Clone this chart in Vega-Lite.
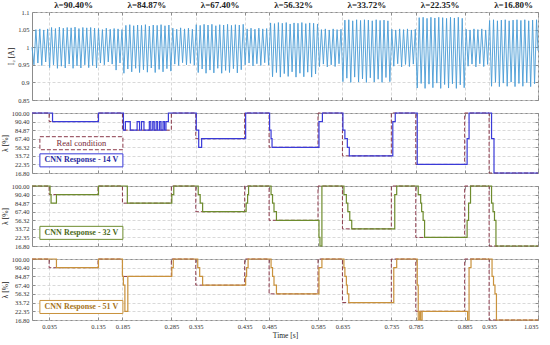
{
"$schema": "https://vega.github.io/schema/vega-lite/v6.json",
"background": "white",
"padding": {"left": 0, "right": 8, "top": 0, "bottom": 2},
"spacing": 5,
"config": {
 "font": "Liberation Serif",
 "view": {"stroke": "#8c8c8c", "strokeWidth": 1},
 "axis": {"labelFontSize": 6.5, "labelColor": "#333333", "titleFontSize": 7.5, "titleFontWeight": "normal", "titleColor": "#222222", "domain": false, "tickColor": "#8c8c8c", "tickSize": -3, "labelPadding": 6, "gridColor": "#cfcfcf", "gridDash": [3, 2], "gridWidth": 0.8, "titlePadding": 2}
},
"datasets": {
 "sig": [
{"t":0,"v":1.0},{"t":0.004,"v":0.950},{"t":0.008,"v":1.050},{"t":0.012,"v":0.955},{"t":0.016,"v":1.052},{"t":0.020,"v":0.948},{"t":0.024,"v":1.049},{"t":0.028,"v":0.958},{"t":0.032,"v":1.052},
{"t":0.036,"v":0.942},{"t":0.040,"v":1.056},{"t":0.044,"v":0.950},{"t":0.048,"v":1.053},{"t":0.052,"v":0.940},{"t":0.056,"v":1.057},{"t":0.060,"v":0.946},{"t":0.064,"v":1.054},{"t":0.068,"v":0.941},{"t":0.072,"v":1.056},{"t":0.076,"v":0.952},{"t":0.080,"v":1.055},{"t":0.084,"v":0.940},{"t":0.088,"v":1.057},{"t":0.092,"v":0.947},{"t":0.096,"v":1.053},{"t":0.100,"v":0.941},{"t":0.104,"v":1.056},{"t":0.108,"v":0.950},{"t":0.112,"v":1.055},{"t":0.116,"v":0.942},{"t":0.120,"v":1.056},{"t":0.124,"v":0.948},{"t":0.128,"v":1.054},{"t":0.132,"v":0.941},
{"t":0.136,"v":1.053},{"t":0.140,"v":0.955},{"t":0.144,"v":1.050},{"t":0.148,"v":0.950},{"t":0.152,"v":1.054},{"t":0.156,"v":0.958},{"t":0.160,"v":1.051},{"t":0.164,"v":0.952},{"t":0.168,"v":1.053},{"t":0.172,"v":0.935},{"t":0.176,"v":1.052},{"t":0.180,"v":0.955},{"t":0.184,"v":1.050},
{"t":0.188,"v":0.926},{"t":0.192,"v":1.062},{"t":0.196,"v":0.938},{"t":0.200,"v":1.064},{"t":0.204,"v":0.930},{"t":0.208,"v":1.061},{"t":0.212,"v":0.940},{"t":0.216,"v":1.063},{"t":0.220,"v":0.928},{"t":0.224,"v":1.062},{"t":0.228,"v":0.936},{"t":0.232,"v":1.064},{"t":0.236,"v":0.929},{"t":0.240,"v":1.060},{"t":0.244,"v":0.941},{"t":0.248,"v":1.063},{"t":0.252,"v":0.928},{"t":0.256,"v":1.062},{"t":0.260,"v":0.937},{"t":0.264,"v":1.064},{"t":0.268,"v":0.930},{"t":0.272,"v":1.061},{"t":0.276,"v":0.939},{"t":0.280,"v":1.063},{"t":0.284,"v":0.932},
{"t":0.288,"v":1.054},{"t":0.292,"v":0.952},{"t":0.296,"v":1.051},{"t":0.300,"v":0.948},{"t":0.304,"v":1.055},{"t":0.308,"v":0.956},{"t":0.312,"v":1.052},{"t":0.316,"v":0.950},{"t":0.320,"v":1.054},{"t":0.324,"v":0.954},{"t":0.328,"v":1.051},{"t":0.332,"v":0.949},
{"t":0.336,"v":1.064},{"t":0.340,"v":0.928},{"t":0.344,"v":1.062},{"t":0.348,"v":0.938},{"t":0.352,"v":1.065},{"t":0.356,"v":0.926},{"t":0.360,"v":1.063},{"t":0.364,"v":0.935},{"t":0.368,"v":1.065},{"t":0.372,"v":0.927},{"t":0.376,"v":1.061},{"t":0.380,"v":0.940},{"t":0.384,"v":1.064},{"t":0.388,"v":0.926},{"t":0.392,"v":1.063},{"t":0.396,"v":0.934},{"t":0.400,"v":1.065},{"t":0.404,"v":0.928},{"t":0.408,"v":1.062},{"t":0.412,"v":0.939},{"t":0.416,"v":1.064},{"t":0.420,"v":0.927},{"t":0.424,"v":1.063},{"t":0.428,"v":0.936},{"t":0.432,"v":1.065},
{"t":0.436,"v":0.950},{"t":0.440,"v":1.052},{"t":0.444,"v":0.955},{"t":0.448,"v":1.054},{"t":0.452,"v":0.947},{"t":0.456,"v":1.051},{"t":0.460,"v":0.953},{"t":0.464,"v":1.054},{"t":0.468,"v":0.948},{"t":0.472,"v":1.052},{"t":0.476,"v":0.956},{"t":0.480,"v":1.053},{"t":0.484,"v":0.949},
{"t":0.488,"v":1.069},{"t":0.492,"v":0.916},{"t":0.496,"v":1.067},{"t":0.500,"v":0.928},{"t":0.504,"v":1.070},{"t":0.508,"v":0.915},{"t":0.512,"v":1.068},{"t":0.516,"v":0.925},{"t":0.520,"v":1.070},{"t":0.524,"v":0.917},{"t":0.528,"v":1.066},{"t":0.532,"v":0.930},{"t":0.536,"v":1.069},{"t":0.540,"v":0.915},{"t":0.544,"v":1.068},{"t":0.548,"v":0.926},{"t":0.552,"v":1.070},{"t":0.556,"v":0.916},{"t":0.560,"v":1.067},{"t":0.564,"v":0.929},{"t":0.568,"v":1.069},{"t":0.572,"v":0.915},{"t":0.576,"v":1.068},{"t":0.580,"v":0.924},{"t":0.584,"v":1.066},
{"t":0.588,"v":0.945},{"t":0.592,"v":1.050},{"t":0.596,"v":0.952},{"t":0.600,"v":1.052},{"t":0.604,"v":0.944},{"t":0.608,"v":1.049},{"t":0.612,"v":0.950},{"t":0.616,"v":1.052},{"t":0.620,"v":0.945},{"t":0.624,"v":1.050},{"t":0.628,"v":0.953},{"t":0.632,"v":1.051},
{"t":0.636,"v":0.902},{"t":0.640,"v":1.077},{"t":0.644,"v":0.912},{"t":0.648,"v":1.078},{"t":0.652,"v":0.900},{"t":0.656,"v":1.075},{"t":0.660,"v":0.915},{"t":0.664,"v":1.078},{"t":0.668,"v":0.901},{"t":0.672,"v":1.076},{"t":0.676,"v":0.910},{"t":0.680,"v":1.078},{"t":0.684,"v":0.900},{"t":0.688,"v":1.077},{"t":0.692,"v":0.913},{"t":0.696,"v":1.075},{"t":0.700,"v":0.901},{"t":0.704,"v":1.078},{"t":0.708,"v":0.909},{"t":0.712,"v":1.076},{"t":0.716,"v":0.900},{"t":0.720,"v":1.077},{"t":0.724,"v":0.914},{"t":0.728,"v":1.075},{"t":0.732,"v":0.902},
{"t":0.736,"v":1.051},{"t":0.740,"v":0.946},{"t":0.744,"v":1.049},{"t":0.748,"v":0.953},{"t":0.752,"v":1.052},{"t":0.756,"v":0.944},{"t":0.760,"v":1.050},{"t":0.764,"v":0.951},{"t":0.768,"v":1.052},{"t":0.772,"v":0.945},{"t":0.776,"v":1.049},{"t":0.780,"v":0.952},{"t":0.784,"v":1.051},
{"t":0.788,"v":0.884},{"t":0.792,"v":1.084},{"t":0.796,"v":0.897},{"t":0.800,"v":1.085},{"t":0.804,"v":0.883},{"t":0.808,"v":1.082},{"t":0.812,"v":0.895},{"t":0.816,"v":1.085},{"t":0.820,"v":0.885},{"t":0.824,"v":1.083},{"t":0.828,"v":0.898},{"t":0.832,"v":1.085},{"t":0.836,"v":0.883},{"t":0.840,"v":1.084},{"t":0.844,"v":0.894},{"t":0.848,"v":1.082},{"t":0.852,"v":0.884},{"t":0.856,"v":1.085},{"t":0.860,"v":0.896},{"t":0.864,"v":1.083},{"t":0.868,"v":0.883},{"t":0.872,"v":1.085},{"t":0.876,"v":0.893},{"t":0.880,"v":1.082},{"t":0.884,"v":0.885},
{"t":0.888,"v":1.051},{"t":0.892,"v":0.946},{"t":0.896,"v":1.049},{"t":0.900,"v":0.952},{"t":0.904,"v":1.052},{"t":0.908,"v":0.944},{"t":0.912,"v":1.050},{"t":0.916,"v":0.953},{"t":0.920,"v":1.052},{"t":0.924,"v":0.945},{"t":0.928,"v":1.049},{"t":0.932,"v":0.951},
{"t":0.936,"v":1.076},{"t":0.940,"v":0.889},{"t":0.944,"v":1.078},{"t":0.948,"v":0.900},{"t":0.952,"v":1.075},{"t":0.956,"v":0.888},{"t":0.960,"v":1.077},{"t":0.964,"v":0.898},{"t":0.968,"v":1.078},{"t":0.972,"v":0.889},{"t":0.976,"v":1.075},{"t":0.980,"v":0.901},{"t":0.984,"v":1.077},{"t":0.988,"v":0.888},{"t":0.992,"v":1.078},{"t":0.996,"v":0.897},{"t":1.000,"v":1.076},{"t":1.004,"v":0.889},{"t":1.008,"v":1.078},{"t":1.012,"v":0.899},{"t":1.016,"v":1.075},{"t":1.020,"v":0.888},{"t":1.024,"v":1.077},{"t":1.028,"v":0.896},{"t":1.032,"v":1.078},{"t":1.035,"v":0.990}
 ],
 "hdr": [
  {"t":0.085,"label":"λ=90.40%"},{"t":0.235,"label":"λ=84.87%"},{"t":0.385,"label":"λ=67.40%"},{"t":0.535,"label":"λ=56.32%"},{"t":0.685,"label":"λ=33.72%"},{"t":0.835,"label":"λ=22.35%"},{"t":0.985,"label":"λ=16.80%"}
 ],
 "real": [
  {"t":0,"lam":100},{"t":0.035,"lam":90.4},{"t":0.135,"lam":100},{"t":0.185,"lam":84.87},{"t":0.285,"lam":100},{"t":0.335,"lam":67.4},{"t":0.435,"lam":100},{"t":0.485,"lam":56.32},{"t":0.585,"lam":100},{"t":0.635,"lam":33.72},{"t":0.735,"lam":100},{"t":0.785,"lam":22.35},{"t":0.885,"lam":100},{"t":0.935,"lam":16.8},{"t":1.035,"lam":16.8}
 ],
 "c14": [
  {"t":0,"lam":100},{"t":0.042,"lam":90.4},{"t":0.136,"lam":100},{"t":0.187,"lam":84.87},{"t":0.191,"lam":90.4},{"t":0.201,"lam":84.87},{"t":0.215,"lam":90.4},{"t":0.220,"lam":84.87},{"t":0.224,"lam":90.4},{"t":0.229,"lam":84.87},{"t":0.240,"lam":90.4},{"t":0.243,"lam":84.87},{"t":0.247,"lam":90.4},{"t":0.250,"lam":84.87},{"t":0.254,"lam":90.4},{"t":0.257,"lam":84.87},{"t":0.261,"lam":90.4},{"t":0.264,"lam":84.87},{"t":0.268,"lam":90.4},{"t":0.271,"lam":84.87},{"t":0.274,"lam":90.4},{"t":0.279,"lam":100},
  {"t":0.336,"lam":84.87},{"t":0.341,"lam":56.32},{"t":0.347,"lam":67.4},{"t":0.437,"lam":100},{"t":0.486,"lam":84.87},{"t":0.489,"lam":67.4},{"t":0.491,"lam":56.32},{"t":0.587,"lam":90.4},{"t":0.594,"lam":100},{"t":0.636,"lam":84.87},{"t":0.640,"lam":67.4},{"t":0.645,"lam":56.32},{"t":0.649,"lam":33.72},{"t":0.738,"lam":90.4},{"t":0.743,"lam":100},{"t":0.788,"lam":22.35},{"t":0.890,"lam":67.4},{"t":0.894,"lam":100},{"t":0.940,"lam":67.4},{"t":0.945,"lam":16.8},{"t":1.035,"lam":16.8}
 ],
 "c32": [
  {"t":0,"lam":100},{"t":0.037,"lam":90.4},{"t":0.039,"lam":84.87},{"t":0.050,"lam":90.4},{"t":0.136,"lam":100},{"t":0.195,"lam":84.87},{"t":0.286,"lam":90.4},{"t":0.290,"lam":100},{"t":0.340,"lam":90.4},{"t":0.344,"lam":84.87},{"t":0.349,"lam":67.4},{"t":0.438,"lam":84.87},{"t":0.441,"lam":90.4},{"t":0.443,"lam":100},{"t":0.489,"lam":90.4},{"t":0.492,"lam":84.87},{"t":0.495,"lam":67.4},{"t":0.500,"lam":56.32},{"t":0.587,"lam":22.35},{"t":0.589,"lam":16.8},{"t":0.593,"lam":100},{"t":0.638,"lam":90.4},{"t":0.643,"lam":84.87},{"t":0.646,"lam":67.4},{"t":0.650,"lam":56.32},{"t":0.654,"lam":33.72},{"t":0.742,"lam":90.4},{"t":0.746,"lam":100},{"t":0.790,"lam":90.4},{"t":0.795,"lam":84.87},{"t":0.797,"lam":67.4},{"t":0.800,"lam":56.32},{"t":0.803,"lam":22.35},{"t":0.890,"lam":56.32},{"t":0.893,"lam":84.87},{"t":0.897,"lam":100},{"t":0.940,"lam":84.87},{"t":0.943,"lam":67.4},{"t":0.946,"lam":56.32},{"t":0.949,"lam":16.8},{"t":1.035,"lam":16.8}
 ],
 "c51": [
  {"t":0,"lam":100},{"t":0.050,"lam":90.4},{"t":0.136,"lam":100},{"t":0.185,"lam":84.87},{"t":0.187,"lam":67.4},{"t":0.190,"lam":22.35},{"t":0.196,"lam":84.87},{"t":0.286,"lam":90.4},{"t":0.289,"lam":100},{"t":0.339,"lam":90.4},{"t":0.343,"lam":84.87},{"t":0.349,"lam":67.4},{"t":0.437,"lam":84.87},{"t":0.439,"lam":90.4},{"t":0.442,"lam":100},{"t":0.489,"lam":90.4},{"t":0.492,"lam":84.87},{"t":0.495,"lam":67.4},{"t":0.500,"lam":56.32},{"t":0.587,"lam":90.4},{"t":0.593,"lam":100},{"t":0.638,"lam":90.4},{"t":0.640,"lam":84.87},{"t":0.643,"lam":67.4},{"t":0.645,"lam":56.32},{"t":0.648,"lam":33.72},{"t":0.740,"lam":90.4},{"t":0.746,"lam":100},{"t":0.788,"lam":67.4},{"t":0.790,"lam":16.8},{"t":0.793,"lam":22.35},{"t":0.795,"lam":16.8},{"t":0.798,"lam":22.35},{"t":0.891,"lam":16.8},{"t":0.894,"lam":90.4},{"t":0.898,"lam":100},{"t":0.941,"lam":84.87},{"t":0.944,"lam":67.4},{"t":0.947,"lam":56.32},{"t":0.950,"lam":16.8},{"t":1.035,"lam":16.8}
 ]
},
"vconcat": [
 {
  "width": 506, "height": 88,
  "layer": [
   {"data": {"name": "sig"},
    "mark": {"type": "line", "color": "#4a9cd6", "strokeWidth": 0.9},
    "encoding": {
     "x": {"field": "t", "type": "quantitative", "scale": {"domain": [0, 1.035], "nice": false, "zero": false},
      "axis": {"orient": "bottom", "values": [0.035,0.135,0.185,0.285,0.335,0.435,0.485,0.585,0.635,0.735,0.785,0.885,0.935,1.035], "labels": false, "title": null, "grid": true}},
     "y": {"field": "v", "type": "quantitative", "scale": {"domain": [0.85, 1.1], "nice": false, "zero": false},
      "axis": {"orient": "left", "values": [0.85,0.9,0.95,1,1.05,1.1], "format": ".3~f", "title": "I₂ [A]", "grid": true}}
    }},
   {"data": {"name": "hdr"},
    "mark": {"type": "text", "fontSize": 9, "fontWeight": "bold", "baseline": "bottom", "dy": -2, "color": "#222222"},
    "encoding": {
     "x": {"field": "t", "type": "quantitative", "axis": {"orient": "top", "values": [0.035,0.135,0.185,0.285,0.335,0.435,0.485,0.585,0.635,0.735,0.785,0.885,0.935,1.035], "labels": false, "title": null, "grid": false}},
     "y": {"datum": 1.1, "type": "quantitative", "axis": {"orient": "right", "values": [0.85,0.9,0.95,1,1.05,1.1], "labels": false, "title": null, "grid": false}},
     "text": {"field": "label"}
    }}
  ]
 },
 {
  "width": 506, "height": 60,
  "layer": [
   {"data": {"name": "real"},
    "mark": {"type": "line", "interpolate": "step-after", "color": "#8b3a4b", "strokeDash": [4, 2], "strokeWidth": 1},
    "encoding": {
     "x": {"field": "t", "type": "quantitative", "scale": {"domain": [0, 1.035], "nice": false, "zero": false},
      "axis": {"orient": "top", "values": [0.035,0.135,0.185,0.285,0.335,0.435,0.485,0.585,0.635,0.735,0.785,0.885,0.935,1.035], "labels": false, "title": null, "grid": false}},
     "y": {"field": "lam", "type": "ordinal", "scale": {"type": "point", "domain": [100, 90.4, 84.87, 67.4, 56.32, 33.72, 22.35, 16.8], "padding": 0},
      "axis": {"orient": "right", "labels": false, "title": null, "grid": false}},
     "order": {"field": "t", "type": "quantitative"}
    }},
   {"data": {"name": "c14"},
    "mark": {"type": "line", "interpolate": "step-after", "color": "#3a3ad8", "strokeWidth": 1.2},
    "encoding": {
     "x": {"field": "t", "type": "quantitative", "axis": {"orient": "bottom", "values": [0.035,0.135,0.185,0.285,0.335,0.435,0.485,0.585,0.635,0.735,0.785,0.885,0.935,1.035], "labels": false, "title": null, "grid": true}},
     "y": {"field": "lam", "type": "ordinal", "axis": {"orient": "left", "title": "λ [%]", "labelExpr": "format(datum.value, '.2f')", "grid": true}},
     "order": {"field": "t", "type": "quantitative"}
    }},
   {"data": {"values": [{"t": 0.101, "lam": 67.4}]},
    "mark": {"type": "point", "shape": "M-1,-0.157L1,-0.157L1,0.157L-1,0.157Z", "size": 6889, "filled": true, "fill": "white", "opacity": 1, "stroke": "#8b3a4b", "strokeWidth": 1, "strokeDash": [4, 2], "yOffset": 4.5},
    "encoding": {"x": {"field": "t", "type": "quantitative", "axis": null}, "y": {"field": "lam", "type": "ordinal", "axis": null}}},
   {"data": {"values": [{"t": 0.101, "lam": 67.4, "label": "Real condition"}]},
    "mark": {"type": "text", "fontSize": 8.5, "color": "#7a2a3a", "baseline": "middle", "yOffset": 4.5},
    "encoding": {"x": {"field": "t", "type": "quantitative", "axis": null}, "y": {"field": "lam", "type": "ordinal", "axis": null}, "text": {"field": "label"}}},
   {"data": {"values": [{"t": 0.101, "lam": 33.72}]},
    "mark": {"type": "point", "shape": "M-1,-0.157L1,-0.157L1,0.157L-1,0.157Z", "size": 6889, "filled": true, "fill": "white", "opacity": 1, "stroke": "#3a3ad8", "strokeWidth": 1, "yOffset": 4.5},
    "encoding": {"x": {"field": "t", "type": "quantitative", "axis": null}, "y": {"field": "lam", "type": "ordinal", "axis": null}}},
   {"data": {"values": [{"t": 0.101, "lam": 33.72, "label": "CNN Response - 14 V"}]},
    "mark": {"type": "text", "fontSize": 8, "fontWeight": "bold", "color": "#2a2aa0", "baseline": "middle", "yOffset": 4.5},
    "encoding": {"x": {"field": "t", "type": "quantitative", "axis": null}, "y": {"field": "lam", "type": "ordinal", "axis": null}, "text": {"field": "label"}}}
  ]
 },
 {
  "width": 506, "height": 60,
  "layer": [
   {"data": {"name": "real"},
    "mark": {"type": "line", "interpolate": "step-after", "color": "#8b3a4b", "strokeDash": [4, 2], "strokeWidth": 1},
    "encoding": {
     "x": {"field": "t", "type": "quantitative", "scale": {"domain": [0, 1.035], "nice": false, "zero": false},
      "axis": {"orient": "top", "values": [0.035,0.135,0.185,0.285,0.335,0.435,0.485,0.585,0.635,0.735,0.785,0.885,0.935,1.035], "labels": false, "title": null, "grid": false}},
     "y": {"field": "lam", "type": "ordinal", "scale": {"type": "point", "domain": [100, 90.4, 84.87, 67.4, 56.32, 33.72, 22.35, 16.8], "padding": 0},
      "axis": {"orient": "right", "labels": false, "title": null, "grid": false}},
     "order": {"field": "t", "type": "quantitative"}
    }},
   {"data": {"name": "c32"},
    "mark": {"type": "line", "interpolate": "step-after", "color": "#6e8c2e", "strokeWidth": 1.2},
    "encoding": {
     "x": {"field": "t", "type": "quantitative", "axis": {"orient": "bottom", "values": [0.035,0.135,0.185,0.285,0.335,0.435,0.485,0.585,0.635,0.735,0.785,0.885,0.935,1.035], "labels": false, "title": null, "grid": true}},
     "y": {"field": "lam", "type": "ordinal", "axis": {"orient": "left", "title": "λ [%]", "labelExpr": "format(datum.value, '.2f')", "grid": true}},
     "order": {"field": "t", "type": "quantitative"}
    }},
   {"data": {"values": [{"t": 0.101, "lam": 33.72}]},
    "mark": {"type": "point", "shape": "M-1,-0.157L1,-0.157L1,0.157L-1,0.157Z", "size": 6889, "filled": true, "fill": "white", "opacity": 1, "stroke": "#6e8c2e", "strokeWidth": 1, "yOffset": 4},
    "encoding": {"x": {"field": "t", "type": "quantitative", "axis": null}, "y": {"field": "lam", "type": "ordinal", "axis": null}}},
   {"data": {"values": [{"t": 0.101, "lam": 33.72, "label": "CNN Response - 32 V"}]},
    "mark": {"type": "text", "fontSize": 8, "fontWeight": "bold", "color": "#4d6a1c", "baseline": "middle", "yOffset": 4},
    "encoding": {"x": {"field": "t", "type": "quantitative", "axis": null}, "y": {"field": "lam", "type": "ordinal", "axis": null}, "text": {"field": "label"}}}
  ]
 },
 {
  "width": 506, "height": 61,
  "layer": [
   {"data": {"name": "real"},
    "mark": {"type": "line", "interpolate": "step-after", "color": "#8b3a4b", "strokeDash": [4, 2], "strokeWidth": 1},
    "encoding": {
     "x": {"field": "t", "type": "quantitative", "scale": {"domain": [0, 1.035], "nice": false, "zero": false},
      "axis": {"orient": "top", "values": [0.035,0.135,0.185,0.285,0.335,0.435,0.485,0.585,0.635,0.735,0.785,0.885,0.935,1.035], "labels": false, "title": null, "grid": false}},
     "y": {"field": "lam", "type": "ordinal", "scale": {"type": "point", "domain": [100, 90.4, 84.87, 67.4, 56.32, 33.72, 22.35, 16.8], "padding": 0},
      "axis": {"orient": "right", "labels": false, "title": null, "grid": false}},
     "order": {"field": "t", "type": "quantitative"}
    }},
   {"data": {"name": "c51"},
    "mark": {"type": "line", "interpolate": "step-after", "color": "#c9923c", "strokeWidth": 1.2},
    "encoding": {
     "x": {"field": "t", "type": "quantitative", "axis": {"orient": "bottom", "values": [0.035,0.135,0.185,0.285,0.335,0.435,0.485,0.585,0.635,0.735,0.785,0.885,0.935,1.035], "format": ".3f", "title": "Time [s]", "grid": true}},
     "y": {"field": "lam", "type": "ordinal", "axis": {"orient": "left", "title": "λ [%]", "labelExpr": "format(datum.value, '.2f')", "grid": true}},
     "order": {"field": "t", "type": "quantitative"}
    }},
   {"data": {"values": [{"t": 0.101, "lam": 33.72}]},
    "mark": {"type": "point", "shape": "M-1,-0.157L1,-0.157L1,0.157L-1,0.157Z", "size": 6889, "filled": true, "fill": "white", "opacity": 1, "stroke": "#c9923c", "strokeWidth": 1, "yOffset": 4.4},
    "encoding": {"x": {"field": "t", "type": "quantitative", "axis": null}, "y": {"field": "lam", "type": "ordinal", "axis": null}}},
   {"data": {"values": [{"t": 0.101, "lam": 33.72, "label": "CNN Response - 51 V"}]},
    "mark": {"type": "text", "fontSize": 8, "fontWeight": "bold", "color": "#a8741c", "baseline": "middle", "yOffset": 4.4},
    "encoding": {"x": {"field": "t", "type": "quantitative", "axis": null}, "y": {"field": "lam", "type": "ordinal", "axis": null}, "text": {"field": "label"}}}
  ]
 }
]
}
